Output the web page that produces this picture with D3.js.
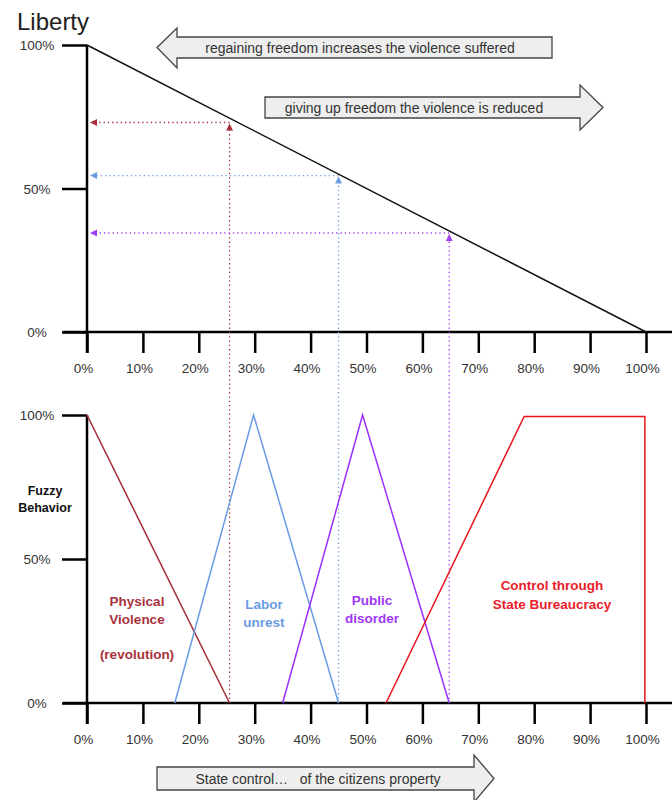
<!DOCTYPE html>
<html><head><meta charset="utf-8">
<script src="https://cdn.jsdelivr.net/npm/d3@7"></script>
<style>
body{margin:0;background:#fff;}
text{font-family:"Liberation Sans",Arial,sans-serif;}
</style></head>
<body>
<svg id="c" width="672" height="800"></svg>
<script>
// ---------- data ----------
const xTickValues = [0,10,20,30,40,50,60,70,80,90,100];
const yTickValues = [0,50,100];
const libertyLine = [[0,100],[100,0]];
const physicalViolence = [[0,100],[25.5,0]];
const laborUnrest = [[15.7,0],[29.8,100],[45,0]];
const publicDisorder = [[35,0],[49.3,100],[64.8,0]];
const stateControl = [[53.5,0],[78.2,99.5],[99.8,99.5],[99.8,0]];
const projX = [25.5, 45, 64.8];
const projY = [73, 54.5, 34.5];
const projColors = ["#a8303c","#6d9de0","#a040f2"];
const seriesColors = ["#a52a35","#6a9be2","#9b30ff","#e8141c"];

const svg = d3.select("#c");
const x = d3.scaleLinear().domain([0,100]).range([87,646]);
const yTop = d3.scaleLinear().domain([0,100]).range([332,45]);
const yBot = d3.scaleLinear().domain([0,100]).range([703,415]);
const pct = d => d + "%";

// title
svg.append("text").attr("x",17).attr("y",30).attr("font-size",24).attr("fill","#222").text("Liberty");

function drawAxes(y, y0) {
  const g = svg.append("g");
  g.append("line").attr("x1",63).attr("x2",672).attr("y1",y0).attr("y2",y0)
    .attr("stroke","#000").attr("stroke-width",2.5);
  const ax = d3.axisBottom(x).tickValues(xTickValues).tickSize(21).tickPadding(10).tickFormat(pct);
  const ga = g.append("g").attr("transform",`translate(0,${y0})`).call(ax);
  ga.select(".domain").remove();
  ga.selectAll(".tick line").attr("stroke","#000").attr("stroke-width",2.5);
  ga.selectAll(".tick text").attr("font-size",13.5).attr("fill","#333").attr("dx",-4)
    .attr("font-family","Liberation Sans, Arial, sans-serif");
  g.append("line").attr("x1",x(0)).attr("x2",x(0)).attr("y1",y(100)).attr("y2",y0+21)
    .attr("stroke","#000").attr("stroke-width",2.5);
  const ay = d3.axisLeft(y).tickValues(yTickValues).tickSize(25).tickFormat("");
  const gy = g.append("g").attr("transform",`translate(${x(0)},0)`).call(ay);
  gy.select(".domain").remove();
  gy.selectAll(".tick line").attr("stroke","#000").attr("stroke-width",2.5);
  g.selectAll(".ylab").data(yTickValues).enter().append("text")
    .attr("x",37).attr("y",d=>y(d)+5).attr("text-anchor","middle")
    .attr("font-size",13.5).attr("fill","#333").text(pct);
}
drawAxes(yTop, 332);
drawAxes(yBot, 703);

const lineTop = d3.line().x(d=>x(d[0])).y(d=>yTop(d[1]));
const lineBot = d3.line().x(d=>x(d[0])).y(d=>yBot(d[1]));

// projections (dotted)
projX.forEach((px,i)=>{
  const c = projColors[i];
  const xs = x(px), ys = yTop(projY[i]);
  svg.append("line").attr("x1",xs).attr("x2",xs).attr("y1",yBot(0)).attr("y2",ys+6)
    .attr("stroke",c).attr("stroke-width",1.3).attr("stroke-dasharray","1.3,3");
  svg.append("line").attr("x1",xs).attr("x2",x(0)+8).attr("y1",ys).attr("y2",ys)
    .attr("stroke",c).attr("stroke-width",1.3).attr("stroke-dasharray","1.3,3");
  svg.append("path").attr("d",`M${xs},${ys+1}L${xs-3.5},${ys+8}L${xs+3.5},${ys+8}Z`).attr("fill",c);
  const lx = x(0)+3;
  svg.append("path").attr("d",`M${lx},${ys}L${lx+7},${ys-3.5}L${lx+7},${ys+3.5}Z`).attr("fill",c);
});

// liberty line
svg.append("path").attr("d",lineTop(libertyLine)).attr("fill","none").attr("stroke","#111").attr("stroke-width",1.5);

// fuzzy series
[physicalViolence,laborUnrest,publicDisorder,stateControl].forEach((s,i)=>{
  svg.append("path").attr("d",lineBot(s)).attr("fill","none")
    .attr("stroke",seriesColors[i]).attr("stroke-width",1.5);
});

// labels
function label(lines, cx, y0, color, dy, fs){
  lines.forEach((t,i)=>{
    svg.append("text").attr("x",cx).attr("y",y0+i*(dy||18)).attr("text-anchor","middle")
      .attr("font-size",fs||13.5).attr("font-weight","bold").attr("fill",color).text(t);
  });
}
label(["Fuzzy","Behavior"],45,495,"#111",17,12.5);
label(["Physical","Violence"],137,606,"#a8323c");
label(["(revolution)"],137,659,"#a8323c");
label(["Labor","unrest"],264,609,"#6a9be2");
label(["Public","disorder"],372,605,"#9d38f5");
label(["Control through","State Bureaucracy"],552,590,"#e8202a",19);

// block arrows
function blockArrow(pts, text, tx, ty){
  svg.append("path").attr("d","M"+pts.map(p=>p.join(",")).join("L")+"Z")
    .attr("fill","#eeeeee").attr("stroke","#444").attr("stroke-width",1.3);
  svg.append("text").attr("x",tx).attr("y",ty).attr("text-anchor","middle")
    .attr("font-size",14).attr("fill","#333").style("white-space","pre").text(text);
}
blockArrow([[157,47.5],[177,28],[177,37],[552,37],[552,58],[177,58],[177,68]],
  "regaining freedom increases the violence suffered",360,52.5);
blockArrow([[265,97],[580,97],[580,85],[603,107.5],[580,130],[580,118],[265,118]],
  "giving up freedom the violence is reduced",414,112.5);
blockArrow([[157,767],[474,767],[474,755],[494,778.5],[474,802],[474,790],[157,790]],
  "State control\u2026   of the citizens property",318,783.5);
</script>
</body></html>
